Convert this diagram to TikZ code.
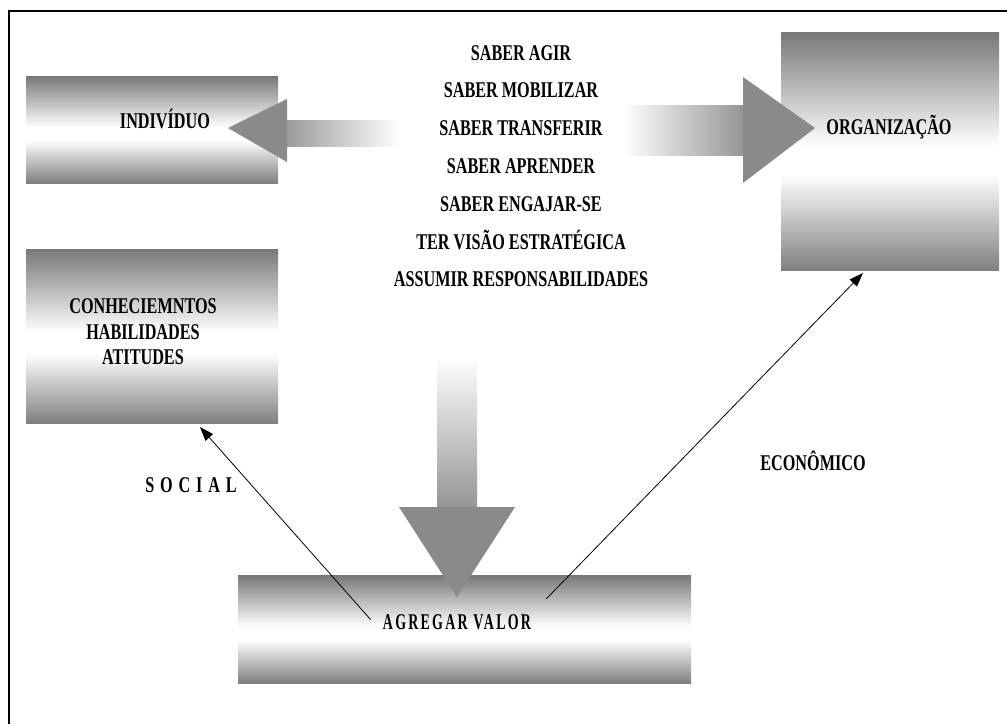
\documentclass[tikz,border=0pt]{standalone}
\usepackage{fontspec}
\setmainfont{Liberation Serif}
\newfontfamily\narrowfont[FakeStretch=0.72]{Liberation Serif}
\newfontfamily\spacedfont[FakeStretch=0.62,LetterSpace=10]{Liberation Serif}
\newfontfamily\widefont[FakeStretch=0.72,LetterSpace=26]{Liberation Serif}
\usepackage{tikz}
\usetikzlibrary{positioning,arrows.meta}
\definecolor{tubegray}{gray}{0.47}
\definecolor{tubelow}{gray}{0.5}
\definecolor{arrowgray}{gray}{0.54}
\pgfdeclareverticalshading{tube}{100bp}{color(0bp)=(tubelow);color(25bp)=(tubelow);color(45bp)=(white);color(51bp)=(white);color(75bp)=(tubegray);color(100bp)=(tubegray)}

\begin{document}
\begin{tikzpicture}[x=1pt,y=-1pt]
  \useasboundingbox (0,0) rectangle (1007,724);
  \tikzstyle{tubebox}=[shading=tube, inner sep=0pt]
  \tikzstyle{boldtext}=[font=\narrowfont\bfseries\fontsize{22.5}{25.5}\selectfont, anchor=base, inner sep=0pt]
  \tikzstyle{thinarrow}=[-{Triangle[length=14pt,width=10pt]}, line width=0.8pt]

  \draw[line width=2.5pt] (9,724) -- (9,11) -- (1007,11);

  \node[tubebox, minimum width=252pt, minimum height=107pt] (indivbox) at (152,129.5) {};
  \node[tubebox, minimum width=252pt, minimum height=174pt] (conhecbox) at (152,336) {};
  \node[tubebox, minimum width=218pt, minimum height=238pt] (orgbox) at (890,151) {};
  \node[tubebox, minimum width=453pt, minimum height=108pt] (valorbox) at (464.5,629) {};

  \fill[arrowgray] (287,99) -- (228,128) -- (287,162) -- cycle;
  \shade[left color=arrowgray!85, right color=white] (287,120) rectangle (400,146);
  \shade[left color=white, right color=arrowgray!90] (623,105) rectangle (743,155);
  \fill[arrowgray] (743,77) -- (815,128) -- (743,183) -- cycle;
  \shade[top color=white, bottom color=arrowgray!90] (437,357) rectangle (477,507);
  \fill[arrowgray] (399,507) -- (515,507) -- (457,597) -- cycle;

  \node[boldtext] (indiv) at (165,128) {INDIVÍDUO};
  \node[boldtext] (org) at (889,134) {ORGANIZAÇÃO};
  \node[boldtext, anchor=center, align=center] (conhec) at (143,332) {CONHECIEMNTOS\\HABILIDADES\\ATITUDES};
  \foreach \txt [count=\i from 0] in {SABER AGIR,SABER MOBILIZAR,SABER TRANSFERIR,SABER APRENDER,SABER ENGAJAR-SE,TER VISÃO ESTRATÉGICA,ASSUMIR RESPONSABILIDADES}{
    \node[boldtext] (saber\i) at (521,{60+37.8*\i}) {\txt};
  }
  \node[boldtext] (social) at (191,492) {\widefont SOCIAL};
  \node[boldtext] (economico) at (813,470) {ECONÔMICO};
  \node[boldtext] (valor) at (457,629) {\spacedfont AGREGAR VALOR};

  \coordinate (socialtip) at (200,427);
  \coordinate (ecotip) at (863,273);
  \draw[thinarrow] ([shift={(-12,-2)}]valor.west) -- (socialtip);
  \draw[thinarrow] ([shift={(15,-15)}]valor.north east) -- (ecotip);
\end{tikzpicture}
\end{document}
